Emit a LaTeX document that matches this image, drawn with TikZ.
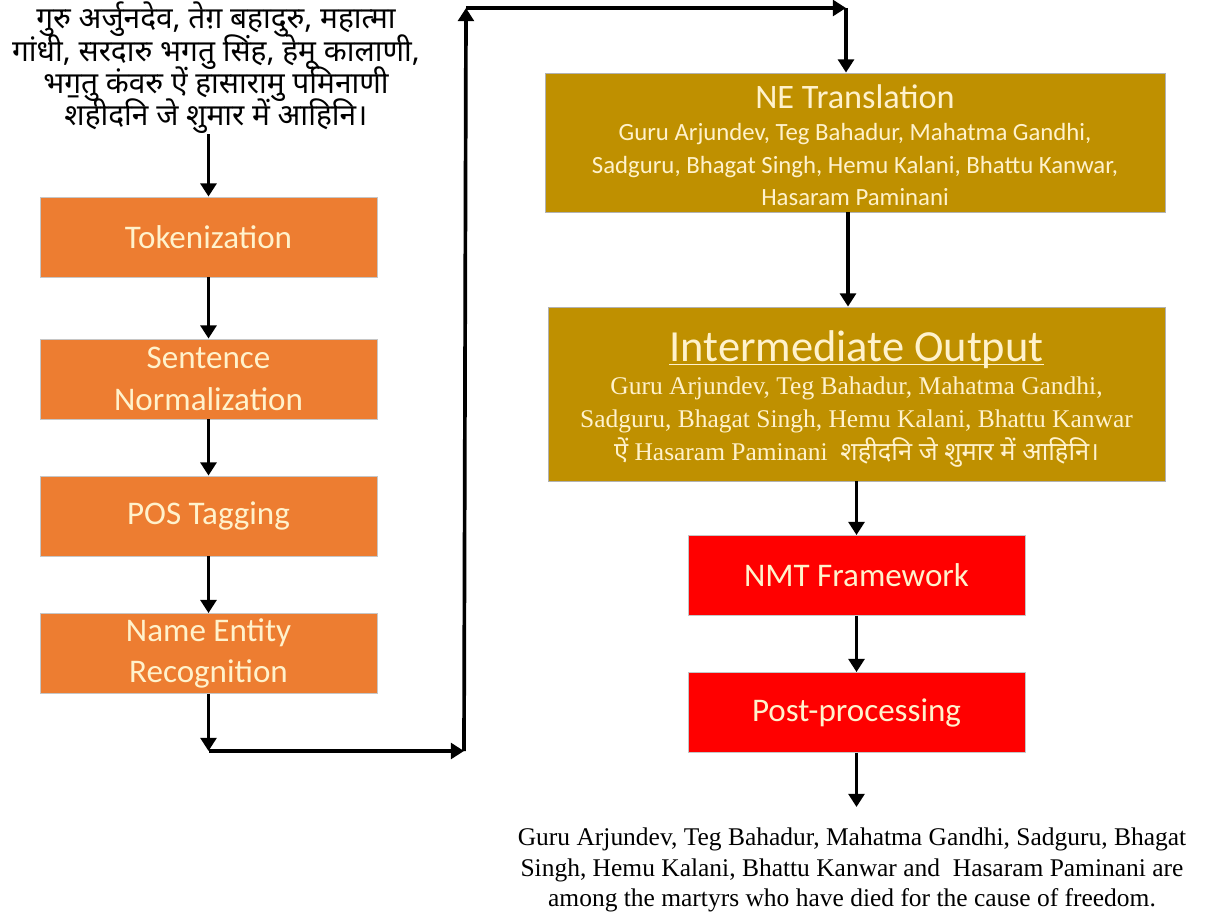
\documentclass[tikz,border=0pt]{standalone}
\usepackage{fontspec}
\setmainfont{Liberation Serif}
\newfontfamily\calib{Carlito}
\newfontfamily\deva[Script=Devanagari]{Noto Sans}
\usetikzlibrary{arrows.meta}
\definecolor{orng}{HTML}{ED7D31}
\definecolor{goldb}{HTML}{BF9000}
\definecolor{redb}{HTML}{FF0000}
\definecolor{cream}{HTML}{FFF2CC}
\newcommand\srcfont{\deva\fontsize{17}{18.4}\selectfont\setlength{\lineskiplimit}{-30pt}}
\begin{document}
\begin{tikzpicture}[x=0.02cm,y=-0.02cm,
  every node/.style={inner sep=0pt},
  obox/.style={draw=gray!45, line width=0.5pt, fill=orng, minimum width=6.74cm, minimum height=1.6cm,
    text=cream, align=center, font=\calib\fontsize{18.8}{23.8}\selectfont},
  rbox/.style={obox, fill=redb},
  gbox/.style={draw=gray!60, line width=0.5pt, fill=goldb, text=cream, align=center},
  arr/.style={-{Triangle[width=9pt,length=7.5pt]}, line width=2.1pt}]
\useasboundingbox (0,0) rectangle (1210,916);

% source text
\node[align=center, font=\srcfont] (src) at (216,68)
  {गुरु अर्जुनदेव, तेग़ बहादुरु, महात्मा\\ गांधी, सरदारु भगतु सिंह, हेमू कालाणी,\\ भग॒तु कंवरु ऐं हासारामु पमिनाणी\\ शहीदनि जे शुमार में आहिनि।};

% left column
\node[obox] (tok) at (208.5,237) {Tokenization};
\node[obox] (sn)  at (208.5,379) {Sentence\\Normalization};
\node[obox] (pos) at (208.5,516) {POS Tagging};
\node[obox] (ner) at (208.5,653.5) {Name Entity\\Recognition};

% right column
\node[gbox, minimum width=12.4cm, minimum height=2.78cm, font=\calib\fontsize{14.1}{18.4}\selectfont] (ne) at (855,142.5)
  {{\fontsize{19.5}{23}\selectfont\rule{0pt}{16.5pt}NE Translation}\\
   Guru Arjundev, Teg Bahadur, Mahatma Gandhi,\\
   Sadguru, Bhagat Singh, Hemu Kalani, Bhattu Kanwar,\\
   Hasaram Paminani};

\node[gbox, minimum width=12.34cm, minimum height=3.48cm, font=\fontsize{14.5}{18.7}\selectfont] (io) at (856.5,394)
  {{\calib\fontsize{25.3}{28}\selectfont\rule{0pt}{23.5pt}\underline{\smash{Intermediate Output}}\rule[-5pt]{0pt}{5pt}}\\[0pt]
   Guru Arjundev, Teg Bahadur, Mahatma Gandhi,\\
   Sadguru, Bhagat Singh, Hemu Kalani, Bhattu Kanwar\\
   {\deva ऐं} Hasaram Paminani\ \ {\deva शहीदनि जे शुमार में आहिनि।}};

\node[rbox] (nmt) at (856.5,575.5) {NMT Framework};
\node[rbox] (pp)  at (856.5,712.5) {Post-processing};

\node[align=center, font=\fontsize{14.5}{17.3}\selectfont] (out) at (852,870)
  {Guru Arjundev, Teg Bahadur, Mahatma Gandhi, Sadguru, Bhagat\\
   Singh, Hemu Kalani, Bhattu Kanwar and\ \ Hasaram Paminani are\\
   among the martyrs who have died for the cause of freedom.};

% connectors
\draw[arr] (tok.north |- src.south) -- (tok.north);
\draw[arr] (tok) -- (sn);
\draw[arr] (sn) -- (pos);
\draw[arr] (pos) -- (ner);

\coordinate (c1) at (209,751);
\coordinate (c2) at (464,751);
\coordinate (c3) at (466,8);
\coordinate (c4) at (846,8);
\draw[arr] (ner.south) -- (ner.south |- c1);
\draw[arr] (c1) -- (c2);
\draw[arr] (c2) -- (c3);
\draw[arr] (c3) -- (c4);
\draw[arr] (c4) -- (c4 |- ne.north);

\draw[arr] ([xshift=-0.14cm]ne.south) -- ([xshift=-0.14cm]ne.south |- io.north);
\draw[arr] (nmt.north |- io.south) -- (nmt.north);
\draw[arr] (nmt) -- (pp);
\coordinate (e) at (856.5,807);
\draw[arr] (pp.south) -- (e);
\end{tikzpicture}
\end{document}
